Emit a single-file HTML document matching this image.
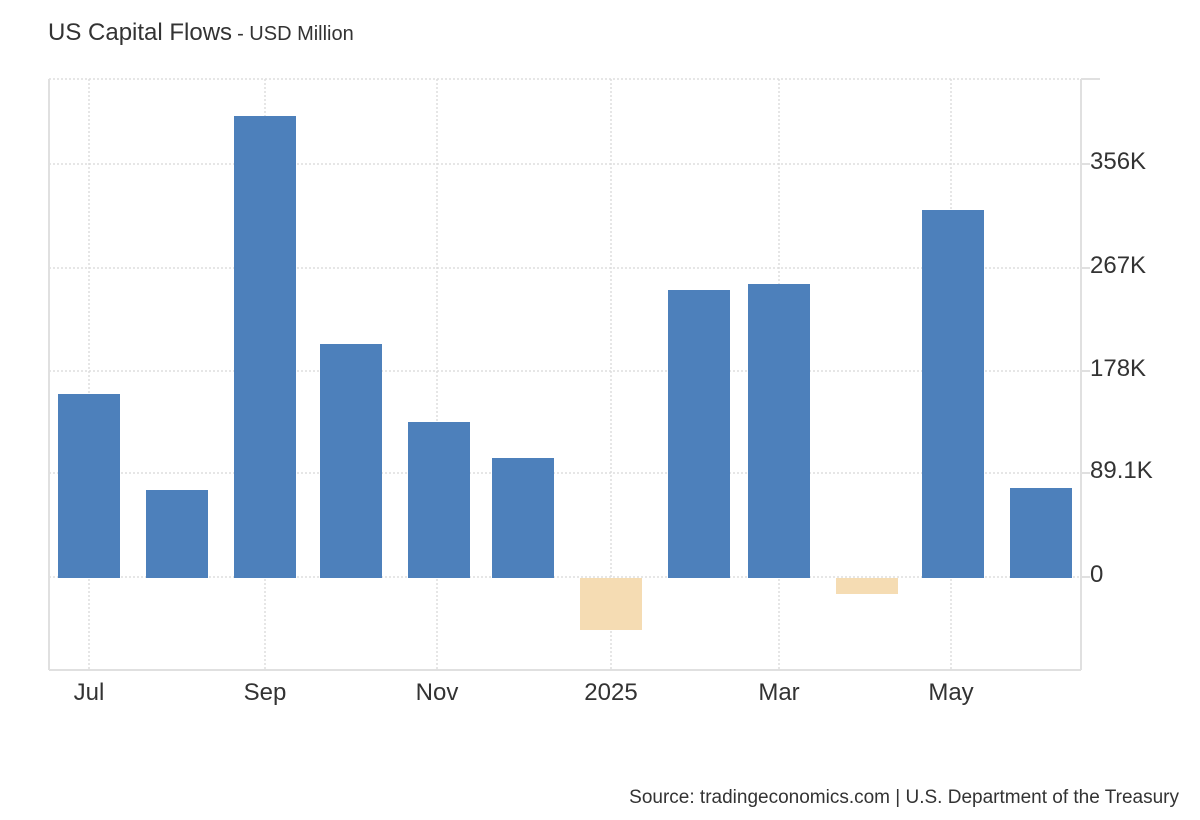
<!DOCTYPE html>
<html><head><meta charset="utf-8"><style>
html,body{margin:0;padding:0;background:#fff;}
svg{display:block;font-family:"Liberation Sans",Arial,sans-serif;}
</style></head><body>
<svg width="1200" height="820" viewBox="0 0 1200 820" xmlns="http://www.w3.org/2000/svg">
<rect width="1200" height="820" fill="#fff"/>
<text x="48" y="40" font-size="24" fill="#333">US Capital Flows<tspan font-size="20" dx="5">- USD Million</tspan></text>
<g stroke="#ddd" stroke-width="1.5" stroke-dasharray="2,2">
<line x1="49" y1="79" x2="1081" y2="79"/>
<line x1="49" y1="164" x2="1081" y2="164"/>
<line x1="49" y1="268" x2="1081" y2="268"/>
<line x1="49" y1="371" x2="1081" y2="371"/>
<line x1="49" y1="473" x2="1081" y2="473"/>
<line x1="49" y1="577" x2="1081" y2="577"/>
<line x1="89" y1="79" x2="89" y2="670"/>
<line x1="265" y1="79" x2="265" y2="670"/>
<line x1="437" y1="79" x2="437" y2="670"/>
<line x1="611" y1="79" x2="611" y2="670"/>
<line x1="779" y1="79" x2="779" y2="670"/>
<line x1="951" y1="79" x2="951" y2="670"/>
</g>
<g stroke="#e0e0e0" stroke-width="2">
<line x1="49" y1="79" x2="49" y2="670"/>
<line x1="49" y1="670" x2="1081" y2="670"/>
<line x1="1081" y1="79" x2="1081" y2="670"/>
<line x1="1081" y1="79" x2="1100" y2="79"/>
<line x1="1081" y1="164" x2="1090" y2="164"/>
<line x1="1081" y1="268" x2="1090" y2="268"/>
<line x1="1081" y1="371" x2="1090" y2="371"/>
<line x1="1081" y1="473" x2="1090" y2="473"/>
<line x1="1081" y1="577" x2="1090" y2="577"/>
</g>
<g fill="#4d80bb">
<rect x="58" y="394" width="62" height="184"/>
<rect x="146" y="490" width="62" height="88"/>
<rect x="234" y="116" width="62" height="462"/>
<rect x="320" y="344" width="62" height="234"/>
<rect x="408" y="422" width="62" height="156"/>
<rect x="492" y="458" width="62" height="120"/>
<rect x="668" y="290" width="62" height="288"/>
<rect x="748" y="284" width="62" height="294"/>
<rect x="922" y="210" width="62" height="368"/>
<rect x="1010" y="488" width="62" height="90"/>
</g>
<g fill="#f5dcb3">
<rect x="580" y="578" width="62" height="52"/>
<rect x="836" y="578" width="62" height="16"/>
</g>
<g font-size="24" fill="#333">
<text x="1090" y="169">356K</text>
<text x="1090" y="273">267K</text>
<text x="1090" y="376">178K</text>
<text x="1090" y="478">89.1K</text>
<text x="1090" y="582">0</text>
</g>
<g font-size="24" fill="#333" text-anchor="middle">
<text x="89" y="700">Jul</text>
<text x="265" y="700">Sep</text>
<text x="437" y="700">Nov</text>
<text x="611" y="700">2025</text>
<text x="779" y="700">Mar</text>
<text x="951" y="700">May</text>
</g>
<text x="1179" y="803" font-size="19" fill="#333" text-anchor="end">Source: tradingeconomics.com | U.S. Department of the Treasury</text>
</svg>
</body></html>
